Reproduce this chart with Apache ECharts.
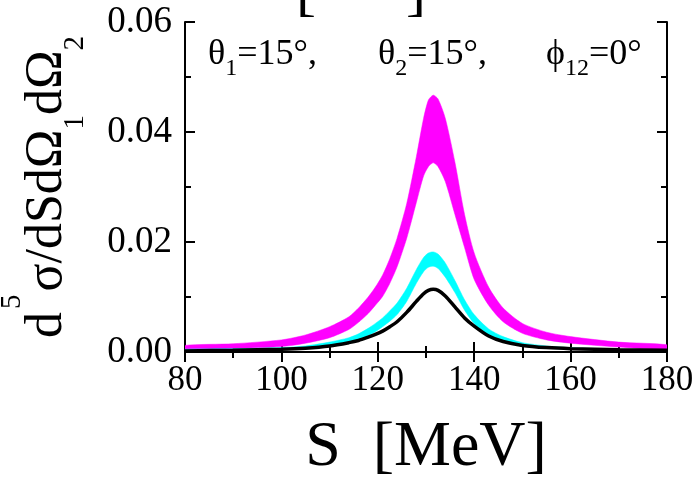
<!DOCTYPE html>
<html>
<head>
<meta charset="utf-8">
<script src="https://cdn.jsdelivr.net/npm/echarts@6/dist/echarts.min.js"></script>
<style>
  html, body { margin: 0; padding: 0; background: #fff; }
  #chart { width: 697px; height: 479px; }
</style>
</head>
<body>
<div id="chart"></div>
<script>
// S grid [MeV]
const energies = [80, 90, 100, 105, 110, 114, 116, 118, 119.5, 121, 122.5, 124, 126, 128, 129.5, 130.5, 131.5, 132.5, 134, 136, 138, 140, 143, 146, 150, 155, 160, 170, 180];

// magenta band
const magentaHigh = [0.0012, 0.0015, 0.0022, 0.0031, 0.0046, 0.0064, 0.0080, 0.0100, 0.0118, 0.0140, 0.0170, 0.0207, 0.0270, 0.0355, 0.0425, 0.0458, 0.0467, 0.0460, 0.0425, 0.0345, 0.0250, 0.0180, 0.0118, 0.0080, 0.0052, 0.0036, 0.0028, 0.0018, 0.0013];
const magentaLow = [0.0005, 0.0006, 0.0010, 0.0016, 0.0026, 0.0041, 0.0054, 0.0070, 0.0085, 0.0101, 0.0125, 0.0155, 0.0207, 0.0272, 0.0320, 0.0337, 0.0344, 0.0337, 0.0310, 0.0250, 0.0190, 0.0132, 0.0085, 0.0055, 0.0034, 0.0022, 0.0016, 0.0009, 0.0005];

// cyan band
const cyanHigh = [0.0005, 0.0006, 0.0008, 0.0011, 0.0018, 0.0026, 0.0033, 0.0043, 0.0052, 0.0062, 0.0075, 0.0089, 0.0116, 0.0150, 0.0172, 0.0180, 0.0182, 0.0178, 0.0162, 0.0130, 0.0095, 0.0068, 0.0042, 0.0028, 0.0017, 0.0011, 0.0008, 0.0005, 0.0004];
const cyanLow = [0.0002, 0.0003, 0.0004, 0.0006, 0.0011, 0.0017, 0.0022, 0.0030, 0.0037, 0.0046, 0.0056, 0.0068, 0.0092, 0.0125, 0.0146, 0.0154, 0.0156, 0.0152, 0.0136, 0.0108, 0.0076, 0.0052, 0.0030, 0.0019, 0.0011, 0.0007, 0.0005, 0.0003, 0.0002];

// black curve
const blackCurve = [0.0002, 0.0003, 0.0005, 0.0007, 0.0011, 0.0017, 0.0021, 0.0027, 0.0032, 0.0038, 0.0046, 0.0055, 0.0072, 0.0092, 0.0106, 0.0112, 0.0114, 0.0112, 0.0102, 0.0082, 0.0062, 0.0047, 0.0029, 0.0019, 0.0012, 0.0008, 0.0006, 0.0004, 0.0003];

const xTicks = [80, 100, 120, 140, 160, 180];
const yTicks = [0.00, 0.02, 0.04, 0.06];

const serif = '"Liberation Serif", "DejaVu Serif", serif';

// band drawn as a filled polygon between low and high curves
function bandSeries(name, lo, hi, color) {
    return {
        name: name,
        type: 'custom',
        data: [[energies[0], hi[0]]],
        clip: true,
        silent: true,
        renderItem: function(params, api) {
            const top = energies.map(function(s, i) { return api.coord([s, hi[i]]); });
            const bottom = energies.map(function(s, i) { return api.coord([s, lo[i]]); }).reverse();
            return {
                type: 'polygon',
                shape: { points: top.concat(bottom), smooth: 0.25 },
                style: { fill: color, stroke: color, lineWidth: 0.5 }
            };
        }
    };
}

const chart = echarts.init(document.getElementById('chart'));

const tickStyle = { inside: true, length: 10, lineStyle: { color: '#000', width: 2 } };
const minorStyle = { show: true, splitNumber: 2, length: 6, lineStyle: { color: '#000', width: 2 } };
const lineStyle = { show: true, lineStyle: { color: '#000', width: 2 } };

const subRich = {
    m: { fontFamily: serif, fontSize: 36, lineHeight: 38, padding: [0, 0, 8, 0], verticalAlign: 'bottom', fill: '#000' },
    s: { fontFamily: serif, fontSize: 24, lineHeight: 24, verticalAlign: 'bottom', fill: '#000' }
};

const option = {
    animation: false,
    grid: { left: 185, right: 30, top: 22, bottom: 127, containLabel: false, outerBoundsMode: 'none' },
    xAxis: [
        {
            type: 'value', min: 80, max: 180, interval: 20,
            axisLine: lineStyle, axisTick: tickStyle, minorTick: minorStyle,
            splitLine: { show: false },
            axisLabel: {
                margin: 11, color: '#000', fontFamily: serif, fontSize: 35,
                formatter: function(v) { return xTicks.indexOf(v) >= 0 ? String(v) : ''; }
            },
            name: 'S  [MeV]', nameLocation: 'middle', nameGap: 64,
            nameTextStyle: { color: '#000', fontFamily: serif, fontSize: 64 }
        },
        {
            type: 'value', position: 'top', min: 80, max: 180, interval: 20,
            axisLine: lineStyle, axisTick: tickStyle, minorTick: minorStyle,
            axisLabel: { show: false }, splitLine: { show: false }
        }
    ],
    yAxis: [
        {
            type: 'value', min: 0, max: 0.06, interval: 0.02,
            axisLine: lineStyle, axisTick: tickStyle, minorTick: minorStyle,
            splitLine: { show: false },
            axisLabel: {
                margin: 13, color: '#000', fontFamily: serif, fontSize: 37,
                formatter: function(v) {
                    const t = yTicks.find(function(k) { return Math.abs(k - v) < 1e-9; });
                    return t === undefined ? '' : t.toFixed(2);
                }
            },
            name: '{m|d}{sup|5}{m|σ/dSdΩ}{sub|1}{m|dΩ}{sub|2}',
            nameLocation: 'middle', nameGap: 86,
            nameTextStyle: {
                color: '#000',
                rich: {
                    m: { fontFamily: serif, fontSize: 52, lineHeight: 98, verticalAlign: 'middle', color: '#000' },
                    sup: { fontFamily: serif, fontSize: 29, lineHeight: 29, padding: [0, 3, 0, 3], verticalAlign: 'top', color: '#000' },
                    sub: { fontFamily: serif, fontSize: 29, lineHeight: 29, padding: [0, 0, 6, 0], verticalAlign: 'bottom', color: '#000' }
                }
            }
        },
        {
            type: 'value', position: 'right', min: 0, max: 0.06, interval: 0.02,
            axisLine: lineStyle, axisTick: tickStyle, minorTick: minorStyle,
            axisLabel: { show: false }, splitLine: { show: false }
        }
    ],
    graphic: [
        { type: 'text', left: 208, top: 37, style: { text: '{m|θ}{s|1}{m|=15°,}', rich: subRich } },
        { type: 'text', left: 378, top: 37, style: { text: '{m|θ}{s|2}{m|=15°,}', rich: subRich } },
        { type: 'text', left: 546, top: 37, style: { text: '{m|ϕ}{s|12}{m|=0°}', rich: subRich } },
        { type: 'text', left: 296, top: -37, style: { text: '[      ]', font: '60px ' + serif, fill: '#000' } }
    ],
    series: [
        bandSeries('magenta', magentaLow, magentaHigh, '#ff00ff'),
        bandSeries('cyan', cyanLow, cyanHigh, '#00ffff'),
        {
            name: 'black',
            type: 'line',
            data: energies.map(function(s, i) { return [s, blackCurve[i]]; }),
            symbol: 'none',
            smooth: 0.3,
            lineStyle: { color: '#000', width: 3.5 },
            z: 5,
            silent: true
        }
    ]
};

chart.setOption(option);
</script>
</body>
</html>
